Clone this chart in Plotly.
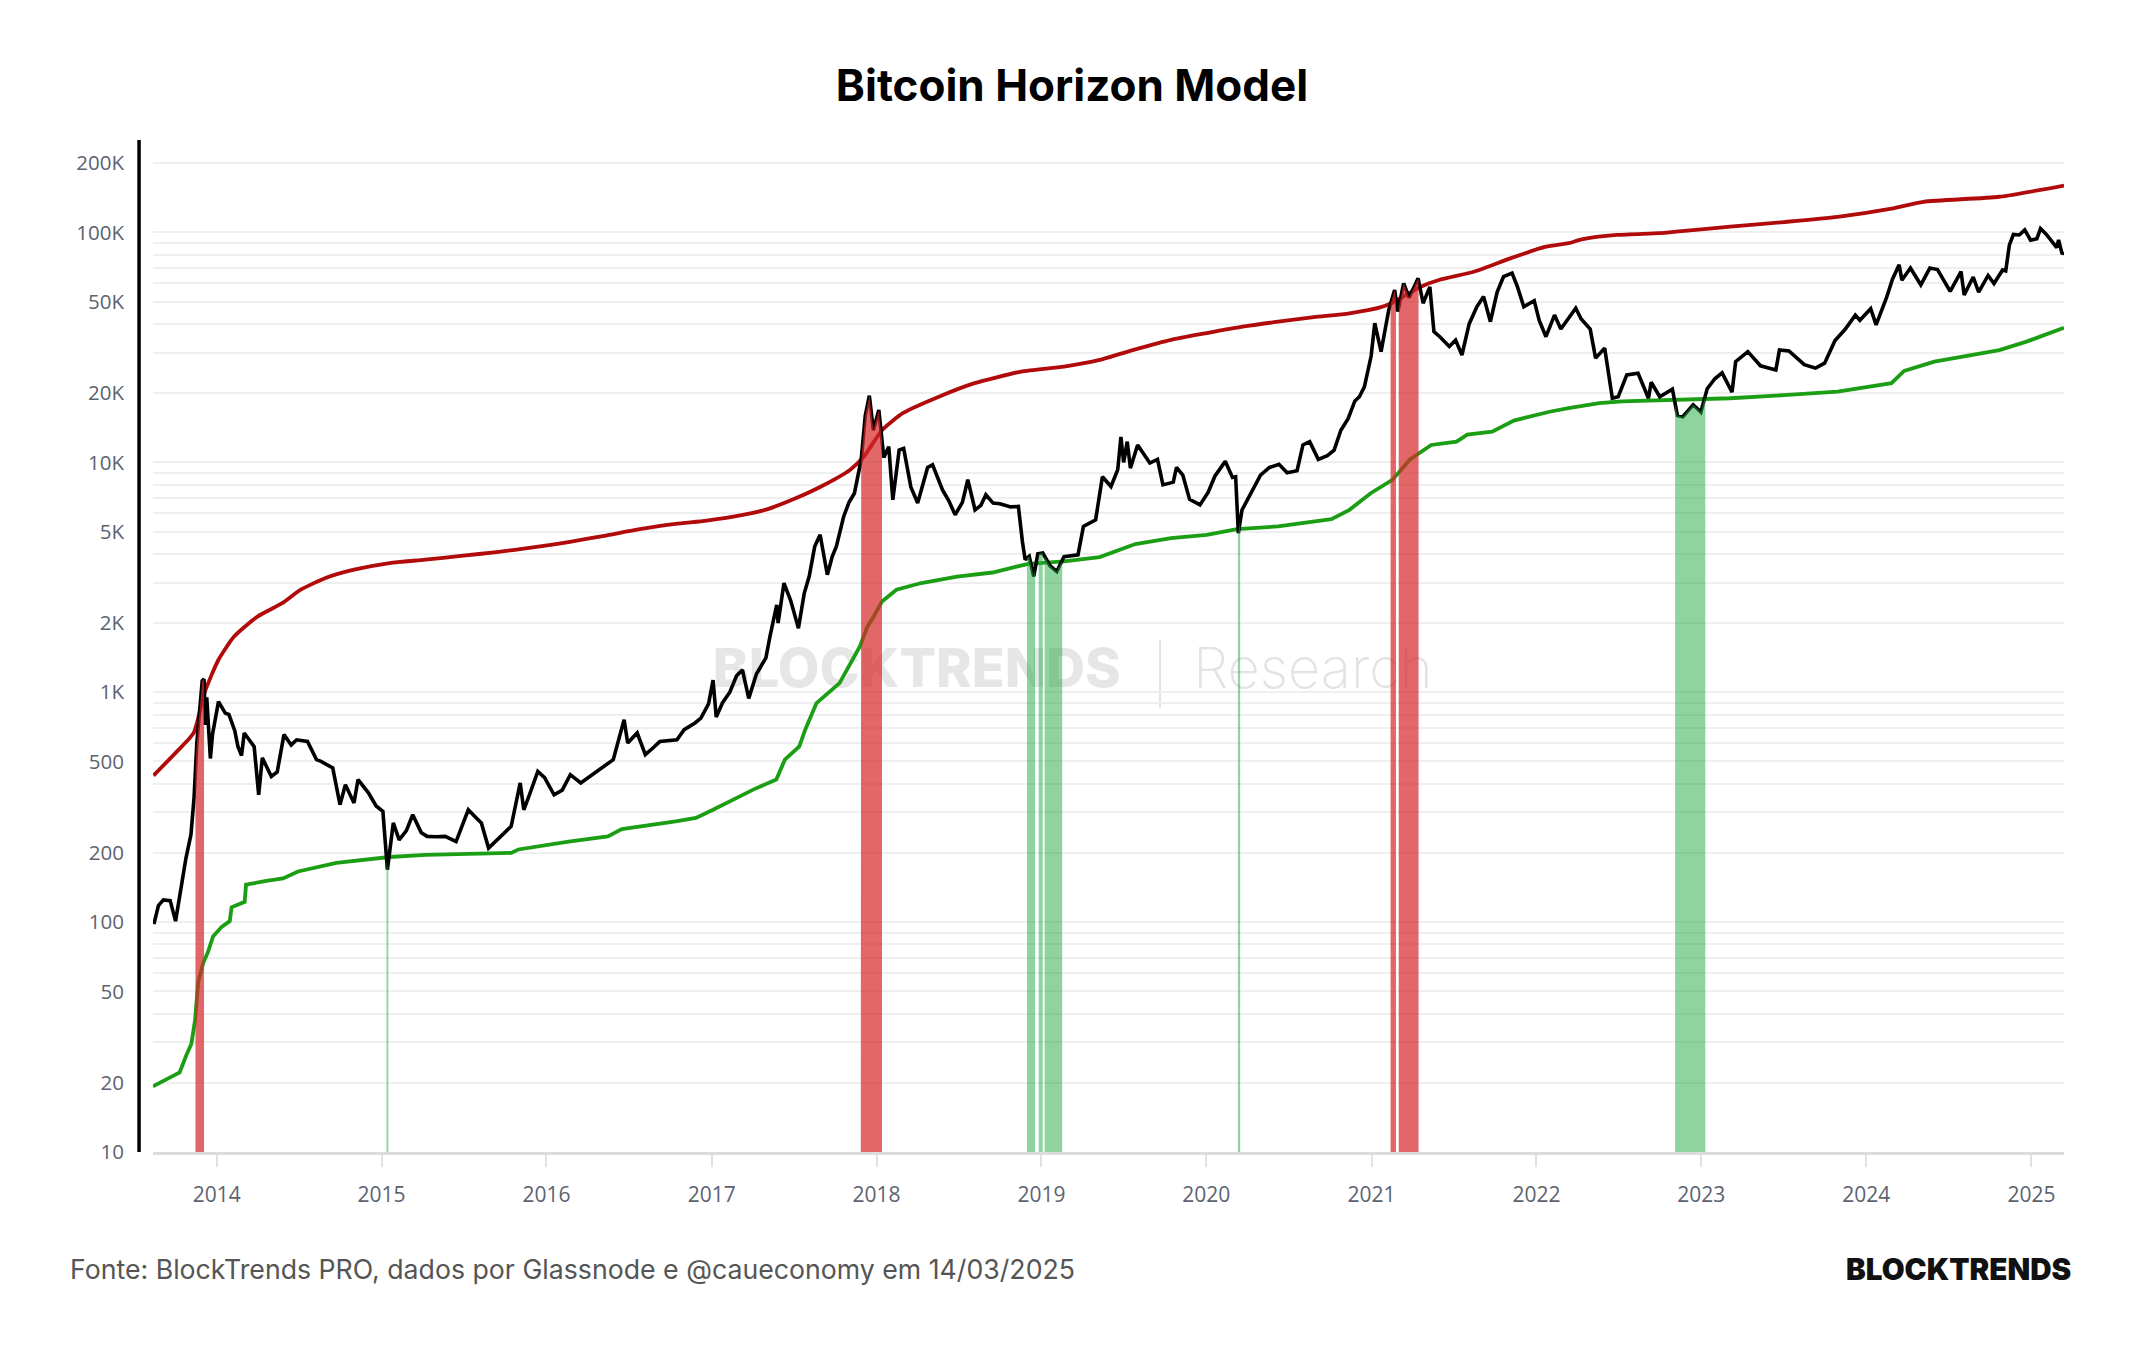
import numpy as np
import pandas as pd
import plotly.graph_objects as go

# ---------------- data ----------------
PRICE_DATES = [
    "2013-08-15", "2013-08-25", "2013-09-05", "2013-09-20", "2013-10-02", "2013-10-10", "2013-10-25",
    "2013-11-05", "2013-11-12", "2013-11-18", "2013-11-22", "2013-11-30", "2013-12-04", "2013-12-07",
    "2013-12-10", "2013-12-18", "2013-12-23", "2014-01-05", "2014-01-20", "2014-01-28", "2014-02-10",
    "2014-02-17", "2014-02-25", "2014-03-03", "2014-03-25", "2014-04-04", "2014-04-12", "2014-05-02",
    "2014-05-15", "2014-05-30", "2014-06-15", "2014-06-27", "2014-07-21", "2014-08-10", "2014-08-20",
    "2014-09-15", "2014-10-01", "2014-10-13", "2014-11-01", "2014-11-10", "2014-12-03", "2014-12-20",
    "2015-01-04", "2015-01-14", "2015-01-27", "2015-02-09", "2015-02-25", "2015-03-11", "2015-03-30",
    "2015-04-12", "2015-05-01", "2015-05-22", "2015-06-15", "2015-07-12", "2015-07-25", "2015-08-10",
    "2015-08-26", "2015-09-18", "2015-10-15", "2015-11-04", "2015-11-12", "2015-11-25", "2015-12-13",
    "2015-12-28", "2016-01-18", "2016-02-05", "2016-02-23", "2016-03-17", "2016-04-26", "2016-05-28",
    "2016-06-21", "2016-06-29", "2016-07-20", "2016-08-07", "2016-08-25", "2016-09-08", "2016-10-16",
    "2016-11-01", "2016-11-25", "2016-12-08", "2016-12-25", "2017-01-04", "2017-01-11", "2017-01-25",
    "2017-02-10", "2017-02-25", "2017-03-10", "2017-03-24", "2017-04-10", "2017-05-01", "2017-05-10",
    "2017-05-25", "2017-05-28", "2017-06-10", "2017-06-25", "2017-07-12", "2017-07-25", "2017-08-05",
    "2017-08-17", "2017-08-29", "2017-09-14", "2017-09-25", "2017-10-04", "2017-10-20", "2017-11-01",
    "2017-11-13", "2017-11-28", "2017-12-07", "2017-12-16", "2017-12-25", "2018-01-06", "2018-01-17",
    "2018-01-28", "2018-02-06", "2018-02-20", "2018-03-02", "2018-03-18", "2018-04-02", "2018-04-24",
    "2018-05-05", "2018-05-27", "2018-06-10", "2018-06-24", "2018-07-10", "2018-07-22", "2018-08-07",
    "2018-08-20", "2018-08-31", "2018-09-16", "2018-10-01", "2018-10-25", "2018-11-11", "2018-11-20",
    "2018-11-26", "2018-12-05", "2018-12-15", "2018-12-24", "2019-01-04", "2019-01-20", "2019-02-04",
    "2019-02-20", "2019-03-23", "2019-04-04", "2019-05-01", "2019-05-16", "2019-06-04", "2019-06-19",
    "2019-06-26", "2019-07-02", "2019-07-10", "2019-07-17", "2019-08-02", "2019-08-29", "2019-09-15",
    "2019-09-27", "2019-10-20", "2019-10-27", "2019-11-10", "2019-11-25", "2019-12-18", "2020-01-05",
    "2020-01-20", "2020-02-12", "2020-02-28", "2020-03-06", "2020-03-12", "2020-03-20", "2020-04-05",
    "2020-04-30", "2020-05-20", "2020-06-10", "2020-06-28", "2020-07-20", "2020-08-02", "2020-08-17",
    "2020-09-05", "2020-09-25", "2020-10-10", "2020-10-25", "2020-11-10", "2020-11-25", "2020-12-05",
    "2020-12-16", "2020-12-31", "2021-01-08", "2021-01-22", "2021-02-08", "2021-02-21", "2021-02-28",
    "2021-03-13", "2021-03-25", "2021-04-14", "2021-04-25", "2021-05-10", "2021-05-19", "2021-06-01",
    "2021-06-22", "2021-07-06", "2021-07-20", "2021-08-05", "2021-08-22", "2021-09-06", "2021-09-21",
    "2021-10-06", "2021-10-20", "2021-11-08", "2021-11-20", "2021-12-04", "2021-12-27", "2022-01-07",
    "2022-01-22", "2022-02-10", "2022-02-24", "2022-03-29", "2022-04-10", "2022-04-30", "2022-05-12",
    "2022-06-01", "2022-06-18", "2022-07-01", "2022-07-20", "2022-08-14", "2022-09-06", "2022-09-12",
    "2022-10-01", "2022-10-29", "2022-11-09", "2022-11-21", "2022-12-14", "2022-12-31", "2023-01-14",
    "2023-01-31", "2023-02-16", "2023-03-10", "2023-03-18", "2023-04-14", "2023-05-12", "2023-06-15",
    "2023-06-23", "2023-07-14", "2023-08-17", "2023-09-11", "2023-10-01", "2023-10-24", "2023-11-15",
    "2023-12-08", "2023-12-18", "2024-01-11", "2024-01-23", "2024-02-15", "2024-02-28", "2024-03-14",
    "2024-03-20", "2024-04-08", "2024-05-01", "2024-05-21", "2024-06-07", "2024-07-05", "2024-07-29",
    "2024-08-05", "2024-08-25", "2024-09-06", "2024-09-27", "2024-10-10", "2024-10-29", "2024-11-05",
    "2024-11-13", "2024-11-22", "2024-12-05", "2024-12-17", "2024-12-30", "2025-01-13", "2025-01-21",
    "2025-02-03", "2025-02-26", "2025-03-02", "2025-03-10", "2025-03-14",
]
PRICE_USD = [
    98, 118, 125, 124, 101, 125, 190,
    240, 350, 600, 750, 1120, 1140, 720,
    950, 515, 660, 910, 811, 800, 680,
    581, 530, 665, 580, 358, 518, 430,
    450, 654, 590, 621, 611, 509, 500,
    468, 324, 396, 330, 417, 365, 320,
    303, 169, 270, 228, 250, 293, 245,
    236, 235, 236, 224, 308, 290, 270,
    210, 232, 261, 403, 308, 360, 452,
    425, 358, 375, 438, 403, 460, 509,
    759, 601, 665, 535, 575, 610, 621,
    687, 735, 772, 890, 1130, 780, 900,
    1000, 1180, 1250, 940, 1200, 1410, 1750,
    2400, 2000, 2985, 2500, 1900, 2700, 3200,
    4300, 4840, 3245, 3900, 4306, 5800, 6700,
    7340, 10300, 16000, 19500, 13800, 16900, 10500,
    11700, 6870, 11300, 11500, 7800, 6650, 9500,
    9750, 7590, 6800, 5910, 6700, 8400, 6210,
    6500, 7230, 6650, 6600, 6400, 6430, 4500,
    3770, 3900, 3187, 4000, 4030, 3550, 3350,
    3890, 3960, 5265, 5620, 8660, 7850, 9300,
    12900, 10000, 12300, 9440, 11900, 9930, 10300,
    7980, 8200, 9500, 8800, 6900, 6530, 7400,
    8700, 10100, 8600, 8660, 4920, 6200, 7100,
    8800, 9500, 9800, 9000, 9200, 11900, 12300,
    10300, 10700, 11300, 13800, 15500, 18500, 19300,
    21300, 29000, 40300, 30300, 46000, 56200, 45300,
    60100, 52000, 63200, 49200, 58000, 37000, 35200,
    31900, 34000, 29300, 40000, 47500, 52600, 40900,
    55000, 64200, 66500, 58000, 47500, 50500, 41500,
    35200, 43700, 38000, 46800, 42000, 38000, 28400,
    31400, 19000, 19300, 24000, 24400, 19000, 22300,
    19300, 20800, 16000, 15800, 17800, 16550, 20900,
    23100, 24500, 20200, 27400, 30300, 26300, 25200,
    30800, 30500, 26600, 25700, 27000, 33900, 37800,
    43700, 41500, 46600, 39600, 52000, 62500, 72300,
    62000, 70000, 59200, 70000, 69000, 55400, 67600,
    53500, 64000, 55000, 65000, 60000, 68700, 68000,
    88000, 98000, 97500, 102600, 92500, 94000, 104000,
    98000, 86000, 92700, 80500, 82000,
]

UPPER_DATES = [
    "2013-08-14", "2013-10-02", "2013-11-11", "2013-12-05", "2014-01-05", "2014-02-09", "2014-04-02",
    "2014-05-27", "2014-07-06", "2014-08-30", "2014-11-01", "2015-01-19", "2015-04-08", "2015-06-26",
    "2015-09-13", "2015-12-02", "2016-02-19", "2016-05-08", "2016-07-26", "2016-10-13", "2016-12-21",
    "2017-03-11", "2017-05-05", "2017-07-07", "2017-08-31", "2017-11-03", "2017-12-04", "2018-01-13",
    "2018-03-01", "2018-05-19", "2018-08-06", "2018-11-17", "2019-02-20", "2019-05-10", "2019-07-28",
    "2019-10-15", "2020-01-02", "2020-03-21", "2020-06-08", "2020-08-26", "2020-11-13", "2021-01-20",
    "2021-02-16", "2021-04-20", "2021-05-30", "2021-08-17", "2021-11-07", "2022-01-22", "2022-03-13",
    "2022-04-11", "2022-06-29", "2022-09-30", "2022-11-06", "2023-03-06", "2023-07-03", "2023-10-30",
    "2024-02-26", "2024-05-07", "2024-10-22", "2025-03-14",
]
UPPER_USD = [
    434, 545, 665, 994, 1384, 1750, 2138,
    2445, 2792, 3140, 3413, 3648, 3770, 3920,
    4070, 4265, 4500, 4790, 5120, 5400, 5580,
    5910, 6260, 6990, 7850, 9270, 10600, 13800,
    16400, 19300, 22100, 24800, 26100, 27900, 31000,
    34100, 36500, 38900, 40900, 42800, 44500, 47200,
    49500, 58100, 62100, 67600, 77500, 86700, 89800,
    93300, 97500, 99300, 100800, 106000, 111000, 117000,
    127000, 136000, 143000, 160000,
]

LOWER_DATES = [
    "2013-08-13", "2013-10-11", "2013-10-26", "2013-11-06", "2013-11-14", "2013-11-21", "2013-12-02",
    "2013-12-13", "2013-12-24", "2014-01-12", "2014-01-30", "2014-02-03", "2014-03-04", "2014-03-07",
    "2014-04-21", "2014-05-28", "2014-06-30", "2014-09-23", "2015-01-19", "2015-04-08", "2015-08-05",
    "2015-10-15", "2015-10-31", "2016-02-19", "2016-05-16", "2016-06-16", "2016-10-13", "2016-11-27",
    "2017-01-04", "2017-04-03", "2017-05-24", "2017-06-12", "2017-07-14", "2017-07-27", "2017-08-21",
    "2017-10-11", "2017-11-11", "2017-11-25", "2017-12-12", "2017-12-26", "2018-01-13", "2018-02-14",
    "2018-04-10", "2018-06-28", "2018-09-15", "2018-12-03", "2019-02-20", "2019-05-10", "2019-07-28",
    "2019-10-15", "2020-01-02", "2020-03-09", "2020-06-08", "2020-10-04", "2020-11-13", "2020-12-30",
    "2021-02-16", "2021-03-27", "2021-05-13", "2021-07-08", "2021-08-01", "2021-09-25", "2021-11-12",
    "2022-01-30", "2022-03-13", "2022-05-20", "2022-07-10", "2022-11-06", "2023-03-06", "2023-07-03",
    "2023-10-30", "2024-02-26", "2024-03-25", "2024-05-31", "2024-10-22", "2024-12-21", "2025-03-14",
]
LOWER_USD = [
    19.3, 22.2, 26.4, 29.6, 37.3, 54.7, 66.2,
    74.4, 86.7, 95.4, 101, 116, 122.5, 145.6,
    151, 155, 166, 181, 192, 196, 198.5,
    200, 207, 224, 236, 254, 274, 284,
    308, 377, 417, 509, 581, 687, 897,
    1096, 1410, 1582, 1933, 2138, 2483, 2792,
    2985, 3187, 3317, 3620, 3706, 3870, 4410,
    4677, 4837, 5125, 5265, 5665, 6213, 7340,
    8390, 10300, 11900, 12300, 13200, 13600, 15200,
    16600, 17200, 18100, 18400, 18700, 19000, 19600,
    20300, 22100, 25000, 27400, 30800, 33500, 38500,
]

# signal periods: price above the upper band (red) / below the lower band (green)
RED_START = ["2013-11-15", "2017-11-27", "2021-02-12", "2021-03-02"]
RED_END = ["2013-12-04", "2018-01-13", "2021-02-24", "2021-04-15"]
GREEN_START = ["2015-01-12", "2018-11-30", "2018-12-26", "2019-01-08", "2020-03-11", "2022-11-04"]
GREEN_END = ["2015-01-16", "2018-12-18", "2019-01-04", "2019-02-16", "2020-03-16", "2023-01-10"]

Y_TICKS = [10, 20, 50, 100, 200, 500, 1000, 2000, 5000, 10000, 20000, 50000, 100000, 200000]
Y_TICK_TEXT = ["10", "20", "50", "100", "200", "500", "1K", "2K", "5K", "10K", "20K", "50K", "100K", "200K"]
X_TICK_YEARS = list(range(2014, 2026))

# ---------------- helpers ----------------
p_dates = pd.to_datetime(PRICE_DATES)
p_ord = p_dates.map(pd.Timestamp.toordinal).to_numpy(dtype=float)
p_log = np.log10(np.array(PRICE_USD, dtype=float))
FLOOR = 10


def band_polygon(start, end):
    s, e = pd.Timestamp(start), pd.Timestamp(end)
    ps = 10 ** np.interp(s.toordinal(), p_ord, p_log)
    pe = 10 ** np.interp(e.toordinal(), p_ord, p_log)
    mask = (p_dates > s) & (p_dates < e)
    xs = [s, s] + list(p_dates[mask]) + [e, e]
    ys = [FLOOR, ps] + list(np.array(PRICE_USD)[mask]) + [pe, FLOOR]
    return xs, ys


fig = go.Figure()

# watermark (beneath everything)
fig.add_trace(go.Scatter(
    x=["2018-03-31"], y=[1203], mode="text", text=["BLOCKTRENDS"],
    textfont=dict(family="Inter", size=54, color="#e6e6e6", weight=800),
    hoverinfo="skip", showlegend=False, cliponaxis=False))
fig.add_trace(go.Scatter(
    x=["2020-08-24"], y=[1203], mode="text", text=["Research"],
    textfont=dict(family="Inter", size=56, color="#e3e3e3", weight=200),
    hoverinfo="skip", showlegend=False, cliponaxis=False))

fig.add_trace(go.Scatter(x=UPPER_DATES, y=UPPER_USD, mode="lines",
                         line=dict(color="#b00a0a", width=3.8, shape="spline", smoothing=0.6),
                         showlegend=False))
fig.add_trace(go.Scatter(x=LOWER_DATES, y=LOWER_USD, mode="lines",
                         line=dict(color="#1c9e14", width=3.8), showlegend=False))
fig.add_trace(go.Scatter(x=PRICE_DATES, y=PRICE_USD, mode="lines",
                         line=dict(color="#000000", width=3.6), showlegend=False))

for s, e in zip(RED_START, RED_END):
    xs, ys = band_polygon(s, e)
    fig.add_trace(go.Scatter(x=xs, y=ys, mode="lines", fill="toself",
                             fillcolor="rgba(214,39,40,0.70)", line=dict(width=0),
                             hoverinfo="skip", showlegend=False))
for s, e in zip(GREEN_START, GREEN_END):
    xs, ys = band_polygon(s, e)
    fig.add_trace(go.Scatter(x=xs, y=ys, mode="lines", fill="toself",
                             fillcolor="rgba(40,170,70,0.52)", line=dict(width=0),
                             hoverinfo="skip", showlegend=False))

minor_vals = [d * 10 ** k for k in range(1, 6) for d in range(1, 10) if d * 10 ** k <= 200000]

fig.update_layout(
    width=2144, height=1350,
    margin=dict(l=153, r=80, t=140, b=197.5),
    paper_bgcolor="white", plot_bgcolor="white",
    title=dict(text="Bitcoin Horizon Model", x=0.5, xanchor="center", xref="container",
               y=1 - 86 / 1350, yanchor="middle", yref="container",
               font=dict(family="Inter", size=44, color="#000000", weight=700)),
    xaxis=dict(
        type="date", range=["2013-08-13", "2025-03-14"],
        tickvals=[f"{y}-01-01" for y in X_TICK_YEARS], ticktext=[str(y) for y in X_TICK_YEARS],
        ticks="outside", ticklen=12, tickwidth=1.5, tickcolor="#e2e2e2",
        showline=True, linecolor="#dcdcdc", linewidth=3, showgrid=False, zeroline=False,
        tickfont=dict(family="Open Sans", size=21, color="#5c6370"), ticklabelstandoff=10,
    ),
    yaxis=dict(
        type="log", range=[1, 1 + 1012.5 / 230],
        tickvals=Y_TICKS, ticktext=Y_TICK_TEXT, ticks="",
        showgrid=True, gridcolor="#efefef", gridwidth=1.5,
        minor=dict(tickvals=minor_vals, showgrid=True, gridcolor="#efefef", gridwidth=1.5, ticks=""),
        showline=False, zeroline=False,
        tickfont=dict(family="Open Sans", size=20.5, color="#5c6370"), ticklabelstandoff=28,
    ),
    shapes=[
        dict(type="line", xref="paper", yref="paper", x0=-0.0073, x1=-0.0073, y0=0, y1=1,
             line=dict(color="#000000", width=3.5), layer="above"),
        dict(type="line", xref="paper", yref="paper", x0=0.527, x1=0.527, y0=0.439, y1=0.506,
             line=dict(color="#e2e2e2", width=2), layer="below"),
    ],
    annotations=[
        dict(text="Fonte: BlockTrends PRO, dados por Glassnode e @caueconomy em 14/03/2025",
             xref="paper", yref="paper", x=-0.0445, y=-0.116, xanchor="left", yanchor="middle",
             showarrow=False, font=dict(family="Inter", size=26.7, color="#555555")),
        dict(text="BLOCKTRENDS", xref="paper", yref="paper", x=1.0047, y=-0.116,
             xanchor="right", yanchor="middle", showarrow=False,
             font=dict(family="Inter", size=29.6, color="#111111", weight=900)),
    ],
    showlegend=False,
)

fig.write_html("out.html")
